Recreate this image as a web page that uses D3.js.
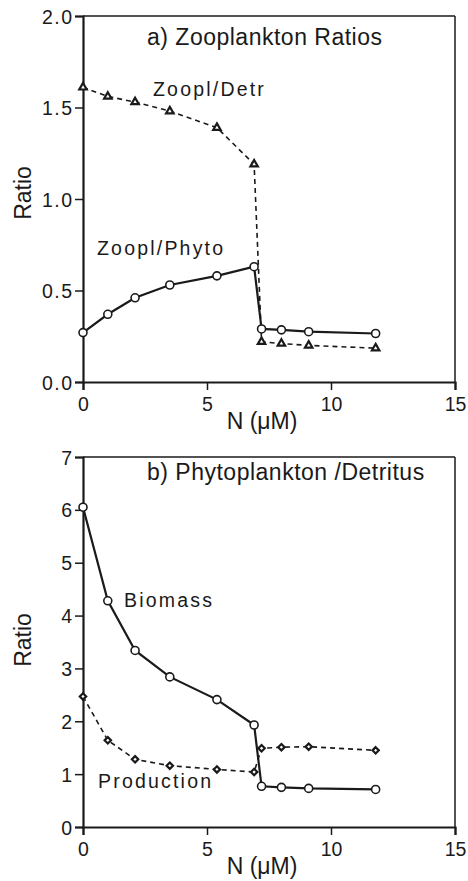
<!DOCTYPE html>
<html>
<head>
<meta charset="utf-8">
<script src="https://cdn.jsdelivr.net/npm/d3@7"></script>
<style>
  html, body { margin: 0; padding: 0; background: #fff; }
  svg { display: block; }
  text { font-family: "Liberation Sans", Arial, Helvetica, sans-serif; fill: #1a1a1a; }
</style>
</head>
<body>
<svg id="chart" width="468" height="881"></svg>
<script>
// ---- data ----
const nValues    = [0, 1.0, 2.1, 3.5, 5.4, 6.9, 7.2, 8.0, 9.1, 11.8];
const zooplPhyto = [0.27, 0.37, 0.46, 0.53, 0.58, 0.63, 0.29, 0.285, 0.275, 0.265];
const zooplDetr  = [1.61, 1.56, 1.53, 1.48, 1.39, 1.19, 0.22, 0.21, 0.20, 0.185];
const biomass    = [6.05, 4.28, 3.34, 2.84, 2.41, 1.93, 0.77, 0.75, 0.73, 0.71];
const production = [2.47, 1.64, 1.28, 1.16, 1.09, 1.04, 1.49, 1.51, 1.52, 1.45];

const xTicks = [0, 5, 10, 15];
const yTicksA = [0, 0.5, 1.0, 1.5, 2.0];
const yTicksB = [0, 1, 2, 3, 4, 5, 6, 7];

const titleA = "a) Zooplankton Ratios";
const titleB = "b) Phytoplankton /Detritus";
const xLabel = "N (\u03BCM)";
const yLabel = "Ratio";

const svg = d3.select("#chart");
const ink = "#1a1a1a";

function panel(cfg) {
  const g = svg.append("g");
  const x = d3.scaleLinear().domain([0, 15]).range([83, 455]);
  const y = d3.scaleLinear().domain(cfg.yDomain).range([cfg.yBottom, cfg.yTop]);

  // frame (top & right)
  g.append("line").attr("x1", x(0)).attr("x2", x(15)).attr("y1", y(cfg.yDomain[1])).attr("y2", y(cfg.yDomain[1]))
    .attr("stroke", ink).attr("stroke-width", 1.5);
  g.append("line").attr("x1", x(15)).attr("x2", x(15)).attr("y1", y(cfg.yDomain[0])).attr("y2", y(cfg.yDomain[1]))
    .attr("stroke", ink).attr("stroke-width", 1.5);

  // axes
  const ax = g.append("g").attr("transform", `translate(0,${y(cfg.yDomain[0])})`)
    .call(d3.axisBottom(x).tickValues(xTicks).tickSize(8).tickPadding(7).tickFormat(d3.format("d")));
  const ay = g.append("g").attr("transform", `translate(${x(0)},0)`)
    .call(d3.axisLeft(y).tickValues(cfg.yTicks).tickSize(8).tickPadding(3).tickFormat(cfg.fmt));
  [ax, ay].forEach(a => {
    a.select(".domain").attr("stroke", ink).attr("stroke-width", 2.2);
    a.selectAll(".tick line").attr("stroke", ink).attr("stroke-width", 1.5);
    a.selectAll(".tick text").attr("font-size", 19.5).attr("fill", ink)
      .style("font-family", '"Liberation Sans", Arial, sans-serif');
  });
  ay.selectAll(".tick text").style("letter-spacing", "1.5px").attr("dx", 1.5).attr("dy", "0.36em");
  ax.selectAll(".tick text").attr("dy", "0.72em");

  // axis labels
  g.append("text").attr("x", 262).attr("y", y(cfg.yDomain[0]) + 47).attr("text-anchor", "middle")
    .attr("font-size", 23).text(xLabel);
  g.append("text").attr("transform", `translate(31,${cfg.ratioY}) rotate(-90)`).attr("text-anchor", "middle")
    .attr("font-size", 23).text(yLabel);

  // title
  g.append("text").attr("x", 147).attr("y", cfg.titleY).attr("font-size", 23)
    .style("letter-spacing", "0.5px").text(cfg.title);

  const line = d3.line().x((d, i) => x(nValues[i])).y(d => y(d));

  // dashed series
  g.append("path").datum(cfg.dashed).attr("d", line).attr("fill", "none")
    .attr("stroke", ink).attr("stroke-width", 1.6).attr("stroke-dasharray", "5,4");
  // solid series
  g.append("path").datum(cfg.solid).attr("d", line).attr("fill", "none")
    .attr("stroke", ink).attr("stroke-width", 2.2);

  // markers for dashed
  const sym = d3.symbol().type(cfg.dashedSymbol).size(cfg.symSize);
  g.selectAll(".dm").data(cfg.dashed).enter().append("path")
    .attr("transform", (d, i) => `translate(${x(nValues[i])},${y(d)})`)
    .attr("d", sym).attr("fill", "#fff").attr("stroke", ink).attr("stroke-width", 2.2);
  // circles for solid
  g.selectAll(".sm").data(cfg.solid).enter().append("circle")
    .attr("cx", (d, i) => x(nValues[i])).attr("cy", d => y(d)).attr("r", 4)
    .attr("fill", "#fff").attr("stroke", ink).attr("stroke-width", 1.6);

  // series labels
  cfg.labels.forEach(l => {
    g.append("text").attr("x", l.x).attr("y", l.y).attr("font-size", 19.5)
      .style("letter-spacing", "2.2px").text(l.text);
  });
}

panel({
  yDomain: [0, 2], yTop: 16, yBottom: 382, yTicks: yTicksA, fmt: d3.format(".1f"),
  ratioY: 193, titleY: 45, title: titleA,
  solid: zooplPhyto, dashed: zooplDetr, dashedSymbol: d3.symbolTriangle, symSize: 24,
  labels: [{text: "Zoopl/Detr", x: 153, y: 96}, {text: "Zoopl/Phyto", x: 97, y: 255}]
});

panel({
  yDomain: [0, 7], yTop: 457, yBottom: 827, yTicks: yTicksB, fmt: d3.format("d"),
  ratioY: 640, titleY: 480, title: titleB,
  solid: biomass, dashed: production, dashedSymbol: d3.symbolDiamond2, symSize: 26,
  labels: [{text: "Biomass", x: 124, y: 607}, {text: "Production", x: 98, y: 788}]
});
</script>
</body>
</html>
